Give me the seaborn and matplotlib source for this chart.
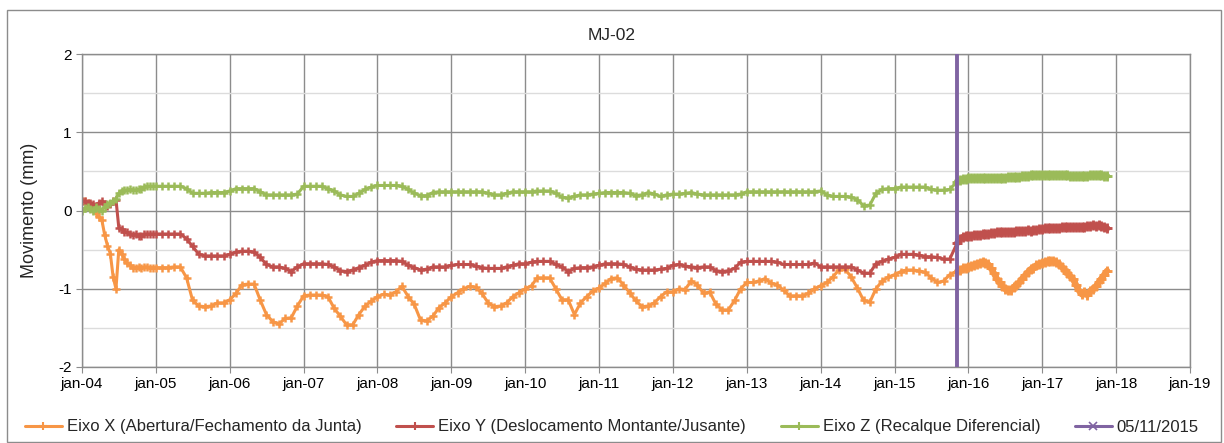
import matplotlib
matplotlib.use('Agg')
import matplotlib.pyplot as plt
from matplotlib.lines import Line2D
from matplotlib.patches import Rectangle
import pandas as pd
import seaborn as sns

sns.set_style('white')
plt.rcParams['font.family'] = ['Liberation Sans', 'DejaVu Sans']
plt.rcParams['axes.unicode_minus'] = False

# ---- datas das leituras ----
datas_2004 = pd.date_range('2004-01-01', periods=26, freq='14D')            # leituras quinzenais 2004
datas_mensal = pd.date_range('2005-01-01', '2015-10-01', freq='MS')          # leituras mensais
datas_auto = pd.date_range('2015-11-06', periods=54, freq='14D')             # após automação
data_marco = pd.Timestamp('2015-11-05')

# ---- Eixo X (Abertura/Fechamento da Junta) ----
eixo_x_2004 = [0.12, 0.12, 0.10, 0.08, 0.04, -0.03, -0.08, -0.12, -0.31, -0.45, -0.55, -0.85, -1.00,
               -0.50, -0.55, -0.62, -0.67, -0.70, -0.73, -0.73, -0.72, -0.73, -0.72, -0.72, -0.73, -0.73]
eixo_x_mensal = [
    -0.73, -0.73, -0.73, -0.72, -0.72, -0.86, -1.15, -1.22, -1.23, -1.22, -1.18, -1.18,  # 2005
    -1.14, -1.06, -0.95, -0.94, -0.94, -1.15, -1.33, -1.42, -1.45, -1.38, -1.37, -1.22,  # 2006
    -1.09, -1.08, -1.08, -1.08, -1.10, -1.25, -1.35, -1.46, -1.46, -1.33, -1.22, -1.16,  # 2007
    -1.10, -1.07, -1.08, -1.04, -0.97, -1.10, -1.20, -1.40, -1.41, -1.35, -1.24, -1.18,  # 2008
    -1.10, -1.05, -1.00, -0.97, -0.98, -1.06, -1.18, -1.23, -1.22, -1.18, -1.10, -1.05,  # 2009
    -1.00, -0.96, -0.86, -0.86, -0.86, -1.00, -1.14, -1.14, -1.33, -1.18, -1.10, -1.03,  # 2010
    -0.99, -0.93, -0.87, -0.86, -0.95, -1.05, -1.15, -1.23, -1.22, -1.18, -1.10, -1.04,  # 2011
    -1.04, -1.00, -1.01, -0.90, -0.95, -1.06, -1.04, -1.20, -1.27, -1.27, -1.15, -1.00,  # 2012
    -0.92, -0.92, -0.90, -0.87, -0.93, -0.95, -1.02, -1.09, -1.09, -1.09, -1.06, -1.00,  # 2013
    -0.96, -0.92, -0.85, -0.76, -0.75, -0.85, -0.99, -1.15, -1.17, -1.00, -0.90, -0.85,  # 2014
    -0.82, -0.78, -0.76, -0.76, -0.77, -0.79, -0.86, -0.92, -0.90, -0.82,                # 2015
]
eixo_x_auto = [-0.78, -0.76, -0.74, -0.73, -0.72, -0.71, -0.70, -0.68, -0.67, -0.66, -0.67, -0.69,
               -0.74, -0.80, -0.87, -0.92, -0.96, -1.00, -1.02, -1.02, -0.98, -0.95, -0.92, -0.87,
               -0.83, -0.79, -0.75, -0.73, -0.70, -0.69, -0.67, -0.66, -0.65, -0.65, -0.65, -0.66,
               -0.69, -0.72, -0.76, -0.80, -0.84, -0.88, -0.95, -1.02, -1.07, -1.04, -1.08, -1.03,
               -1.00, -0.97, -0.92, -0.87, -0.82, -0.77]

# ---- Eixo Y (Deslocamento Montante/Jusante) ----
eixo_y_2004 = [0.12, 0.12, 0.10, 0.10, 0.08, 0.06, 0.10, 0.12, 0.08, 0.06, 0.08, 0.12, 0.14,
               -0.22, -0.24, -0.27, -0.28, -0.30, -0.31, -0.30, -0.32, -0.33, -0.30, -0.30, -0.30, -0.30]
eixo_y_mensal = [
    -0.30, -0.30, -0.30, -0.30, -0.30, -0.36, -0.46, -0.56, -0.58, -0.58, -0.58, -0.58,  # 2005
    -0.56, -0.53, -0.52, -0.52, -0.53, -0.60, -0.69, -0.72, -0.72, -0.74, -0.78, -0.72,  # 2006
    -0.68, -0.68, -0.68, -0.68, -0.69, -0.72, -0.77, -0.78, -0.76, -0.73, -0.70, -0.66,  # 2007
    -0.64, -0.64, -0.64, -0.64, -0.65, -0.70, -0.73, -0.76, -0.75, -0.72, -0.72, -0.72,  # 2008
    -0.70, -0.69, -0.69, -0.69, -0.71, -0.73, -0.74, -0.74, -0.74, -0.72, -0.70, -0.68,  # 2009
    -0.68, -0.66, -0.65, -0.65, -0.65, -0.69, -0.72, -0.78, -0.74, -0.73, -0.73, -0.72,  # 2010
    -0.70, -0.68, -0.68, -0.68, -0.69, -0.72, -0.75, -0.76, -0.76, -0.76, -0.75, -0.74,  # 2011
    -0.70, -0.69, -0.71, -0.72, -0.73, -0.72, -0.72, -0.77, -0.78, -0.77, -0.74, -0.66,  # 2012
    -0.65, -0.65, -0.65, -0.65, -0.65, -0.66, -0.69, -0.69, -0.69, -0.69, -0.69, -0.67,  # 2013
    -0.72, -0.72, -0.72, -0.72, -0.72, -0.72, -0.76, -0.80, -0.80, -0.68, -0.65, -0.62,  # 2014
    -0.60, -0.56, -0.56, -0.56, -0.57, -0.59, -0.59, -0.60, -0.62, -0.62,                # 2015
]
eixo_y_auto = [-0.42, -0.36, -0.34, -0.33, -0.32, -0.32, -0.31, -0.31, -0.31, -0.30, -0.30, -0.30,
               -0.29, -0.29, -0.28, -0.28, -0.28, -0.27, -0.27, -0.27, -0.27, -0.26, -0.26, -0.26,
               -0.26, -0.25, -0.26, -0.25, -0.25, -0.24, -0.24, -0.23, -0.23, -0.22, -0.22, -0.22,
               -0.22, -0.21, -0.21, -0.21, -0.21, -0.21, -0.21, -0.21, -0.21, -0.21, -0.20, -0.20,
               -0.19, -0.20, -0.19, -0.20, -0.21, -0.23]

# ---- Eixo Z (Recalque Diferencial) ----
eixo_z_2004 = [0.00, 0.03, 0.04, 0.02, 0.00, 0.05, 0.02, 0.00, 0.05, 0.08, 0.10, 0.12, 0.15,
               0.22, 0.25, 0.26, 0.26, 0.27, 0.26, 0.26, 0.27, 0.28, 0.30, 0.31, 0.31, 0.31]
eixo_z_mensal = [
    0.31, 0.31, 0.31, 0.31, 0.31, 0.28, 0.22, 0.22, 0.22, 0.23, 0.23, 0.23,  # 2005
    0.25, 0.28, 0.28, 0.28, 0.28, 0.24, 0.20, 0.20, 0.20, 0.20, 0.20, 0.21,  # 2006
    0.31, 0.31, 0.31, 0.31, 0.28, 0.25, 0.20, 0.18, 0.18, 0.22, 0.27, 0.30,  # 2007
    0.32, 0.32, 0.32, 0.32, 0.31, 0.27, 0.22, 0.19, 0.19, 0.23, 0.24, 0.24,  # 2008
    0.24, 0.24, 0.24, 0.24, 0.24, 0.24, 0.22, 0.20, 0.20, 0.22, 0.24, 0.24,  # 2009
    0.24, 0.24, 0.25, 0.25, 0.25, 0.22, 0.17, 0.16, 0.18, 0.20, 0.20, 0.21,  # 2010
    0.22, 0.23, 0.23, 0.23, 0.23, 0.22, 0.19, 0.20, 0.23, 0.21, 0.18, 0.20,  # 2011
    0.21, 0.21, 0.22, 0.23, 0.21, 0.20, 0.20, 0.20, 0.20, 0.20, 0.20, 0.21,  # 2012
    0.24, 0.24, 0.24, 0.24, 0.24, 0.24, 0.24, 0.24, 0.24, 0.24, 0.24, 0.24,  # 2013
    0.25, 0.20, 0.18, 0.18, 0.18, 0.17, 0.14, 0.06, 0.07, 0.22, 0.27, 0.28,  # 2014
    0.28, 0.30, 0.30, 0.30, 0.30, 0.30, 0.27, 0.26, 0.26, 0.27,              # 2015
]
eixo_z_auto = [0.37, 0.39, 0.40, 0.40, 0.41, 0.41, 0.41, 0.41, 0.42, 0.42, 0.42, 0.42,
               0.42, 0.42, 0.42, 0.42, 0.42, 0.42, 0.43, 0.43, 0.43, 0.43, 0.43, 0.44,
               0.44, 0.44, 0.45, 0.45, 0.45, 0.46, 0.46, 0.46, 0.46, 0.46, 0.46, 0.46,
               0.46, 0.45, 0.45, 0.45, 0.44, 0.44, 0.44, 0.44, 0.44, 0.44, 0.44, 0.45,
               0.45, 0.45, 0.45, 0.45, 0.44, 0.44]

anos = pd.date_range('2004-01-01', '2019-01-01', freq='YS')
rotulos_x = ['jan-04', 'jan-05', 'jan-06', 'jan-07', 'jan-08', 'jan-09', 'jan-10', 'jan-11',
             'jan-12', 'jan-13', 'jan-14', 'jan-15', 'jan-16', 'jan-17', 'jan-18', 'jan-19']

nomes = ['Eixo X (Abertura/Fechamento da Junta)',
         'Eixo Y (Deslocamento Montante/Jusante)',
         'Eixo Z (Recalque Diferencial)']
cores = ['#F79646', '#C0504D', '#9BBB59']
cor_marco = '#8064A2'

todas_datas = datas_2004.append(datas_mensal).append(datas_auto)
series = [
    (eixo_x_2004 + eixo_x_mensal + eixo_x_auto, eixo_x_auto),
    (eixo_y_2004 + eixo_y_mensal + eixo_y_auto, eixo_y_auto),
    (eixo_z_2004 + eixo_z_mensal + eixo_z_auto, eixo_z_auto),
]

fig = plt.figure(figsize=(12.24, 4.43), dpi=100)
ax = fig.add_axes([82 / 1224, 76 / 443, 1108 / 1224, 313 / 443])

for (vals, auto), cor in zip(series, cores):
    sns.lineplot(x=todas_datas, y=vals, ax=ax, color=cor, lw=2.2, marker='+',
                 markersize=6, markeredgewidth=1.8, markeredgecolor=cor,
                 estimator=None, legend=False)
    # trecho automatizado: leituras muito densas, linha mais grossa
    sns.lineplot(x=datas_auto, y=auto, ax=ax, color=cor, lw=4.5, marker='+',
                 markersize=7, markeredgewidth=2, markeredgecolor=cor,
                 estimator=None, legend=False)

ax.axvline(data_marco, color=cor_marco, lw=2.8, zorder=5)

ax.set_xlim(anos[0], anos[-1])
ax.set_xticks(anos)
ax.set_xticklabels(rotulos_x)
ax.set_ylim(-2, 2)
ax.set_yticks([-2, -1, 0, 1, 2])
ax.set_yticks([-1.5, -0.5, 0.5, 1.5], minor=True)
ax.set_xlabel('')
ax.set_ylabel('Movimento (mm)', fontsize=13)
ax.yaxis.set_label_coords(-44 / 1108, 0.5)

ax.grid(True, which='major', color='#8C8C8C', lw=1)
ax.grid(True, which='minor', axis='y', color='#DCDCDC', lw=1)
ax.set_axisbelow(True)
for sp in ax.spines.values():
    sp.set_color('#8C8C8C')
    sp.set_linewidth(1)
ax.tick_params(axis='both', which='major', direction='out', length=4, color='#8C8C8C',
               labelsize=11, labelcolor='black', bottom=True, left=True)
ax.tick_params(axis='y', which='minor', length=0)

fig.text(0.5, 1 - 35 / 443, 'MJ-02', ha='center', va='center', fontsize=12.5)

handles = [Line2D([0], [0], color=c, lw=2.2, marker='+', markersize=6, markeredgewidth=1.5) for c in cores]
handles.append(Line2D([0], [0], color=cor_marco, lw=2.2, marker='x', markersize=6, markeredgewidth=1.2))
rotulos_leg = nomes + ['05/11/2015']
fig.legend(handles, rotulos_leg, loc='center', bbox_to_anchor=(0.5, 16 / 443), ncol=4,
           frameon=False, fontsize=12, handlelength=2.2, handletextpad=0.3, columnspacing=2.1)

fig.patches.append(Rectangle((7 / 1224, 1 / 443), 1214 / 1224, 432 / 443, transform=fig.transFigure,
                             fill=False, ec='#8C8C8C', lw=1))

fig.savefig('out.png', dpi=100)
plt.close(fig)
